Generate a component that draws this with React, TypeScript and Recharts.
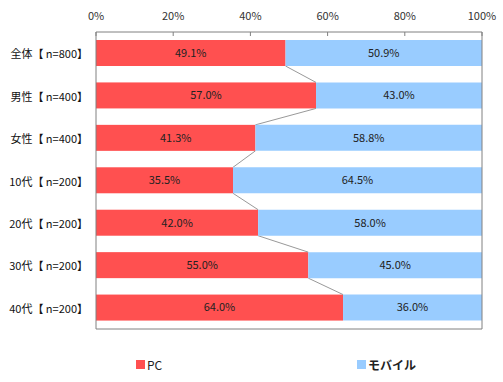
import { Bar, BarChart, LabelList, Legend, XAxis, YAxis } from "recharts";

// 利用デバイス比率（%）
const categories = [
  "全体【 n=800】",
  "男性【 n=400】",
  "女性【 n=400】",
  "10代【 n=200】",
  "20代【 n=200】",
  "30代【 n=200】",
  "40代【 n=200】",
];
const pcShare = [49.1, 57.0, 41.3, 35.5, 42.0, 55.0, 64.0];
const mobileShare = [50.9, 43.0, 58.8, 64.5, 58.0, 45.0, 36.0];
const xTicks = [0, 20, 40, 60, 80, 100];

const data = categories.map((name, i) => ({ name, pc: pcShare[i], mobile: mobileShare[i] }));

const RED = "#ff5050";
const BLUE = "#99ccff";
const FRAME = "#808080";
const FONT = "'Noto Sans CJK JP', 'Noto Sans', sans-serif";

// right end of each PC bar, filled while the bars render (in index order)
const pcEnds: { x: number; top: number; bottom: number }[] = [];

function PcBar(props: any) {
  const { x, y, width, height, index } = props;
  pcEnds[index] = { x: x + width, top: y, bottom: y + height };
  const prev = index > 0 ? pcEnds[index - 1] : undefined;
  return (
    <g>
      <rect x={x} y={y} width={width} height={height} fill={RED} />
      {prev && <line x1={prev.x} y1={prev.bottom} x2={x + width} y2={y} stroke="#999" strokeWidth={1} />}
    </g>
  );
}

// single-line category label (the default tick wraps long text)
function CategoryTick(props: any) {
  const { x, y, payload } = props;
  return (
    <text x={x} y={y} textAnchor="end" dominantBaseline="central" fill="#111" fontSize={11}>
      {payload.value}
    </text>
  );
}

const pct = (v: any) => `${Number(v).toFixed(1)}%`;

function LegendContent(props: any) {
  const items = props.payload || [];
  const lefts = [136, 357];
  return (
    <div style={{ position: "relative", height: 20, fontFamily: FONT, fontSize: 12, color: "#222" }}>
      {items.map((it: any, i: number) => (
        <div
          key={it.value}
          style={{ position: "absolute", left: lefts[i], top: 2, display: "flex", alignItems: "center", gap: 2 }}
        >
          <span style={{ width: 9, height: 9, background: it.color, display: "inline-block" }} />
          <span style={{ fontWeight: i === 1 ? 700 : 400 }}>{it.value}</span>
        </div>
      ))}
    </div>
  );
}

export default function App() {
  return (
    <>
      <style>{`body{margin:0}`}</style>
      <BarChart
        width={503}
        height={382}
        data={data}
        layout="vertical"
        barSize={26}
        margin={{ top: 0, right: 20, left: 0, bottom: 8 }}
        style={{ fontFamily: FONT }}
      >
        <XAxis
          type="number"
          orientation="top"
          domain={[0, 100]}
          ticks={xTicks}
          allowDataOverflow
          tickFormatter={(v: number) => `${v}%`}
          height={32}
          tickSize={-4}
          tickMargin={16}
          axisLine={{ stroke: FRAME }}
          tickLine={{ stroke: FRAME }}
          tick={{ fill: "#333", fontSize: 11 }}
          interval={0}
        />
        <XAxis
          xAxisId="b"
          type="number"
          orientation="bottom"
          domain={[0, 100]}
          height={25}
          tick={false}
          tickLine={false}
          axisLine={{ stroke: FRAME }}
        />
        <YAxis
          type="category"
          dataKey="name"
          width={96}
          axisLine={{ stroke: FRAME }}
          tickLine={false}
          tick={<CategoryTick />}
          interval={0}
        />
        <YAxis
          yAxisId="r"
          type="category"
          dataKey="name"
          orientation="right"
          width={1}
          tick={false}
          tickLine={false}
          axisLine={{ stroke: FRAME }}
        />
        <Legend verticalAlign="bottom" content={<LegendContent />} />
        <Bar dataKey="pc" name="PC" stackId="s" fill={RED} shape={<PcBar />} isAnimationActive={false}>
          <LabelList dataKey="pc" position="center" formatter={pct} fill="#222" fontSize={11} />
        </Bar>
        <Bar dataKey="mobile" name="モバイル" stackId="s" fill={BLUE} isAnimationActive={false}>
          <LabelList dataKey="mobile" position="center" formatter={pct} fill="#222" fontSize={11} />
        </Bar>
      </BarChart>
    </>
  );
}
